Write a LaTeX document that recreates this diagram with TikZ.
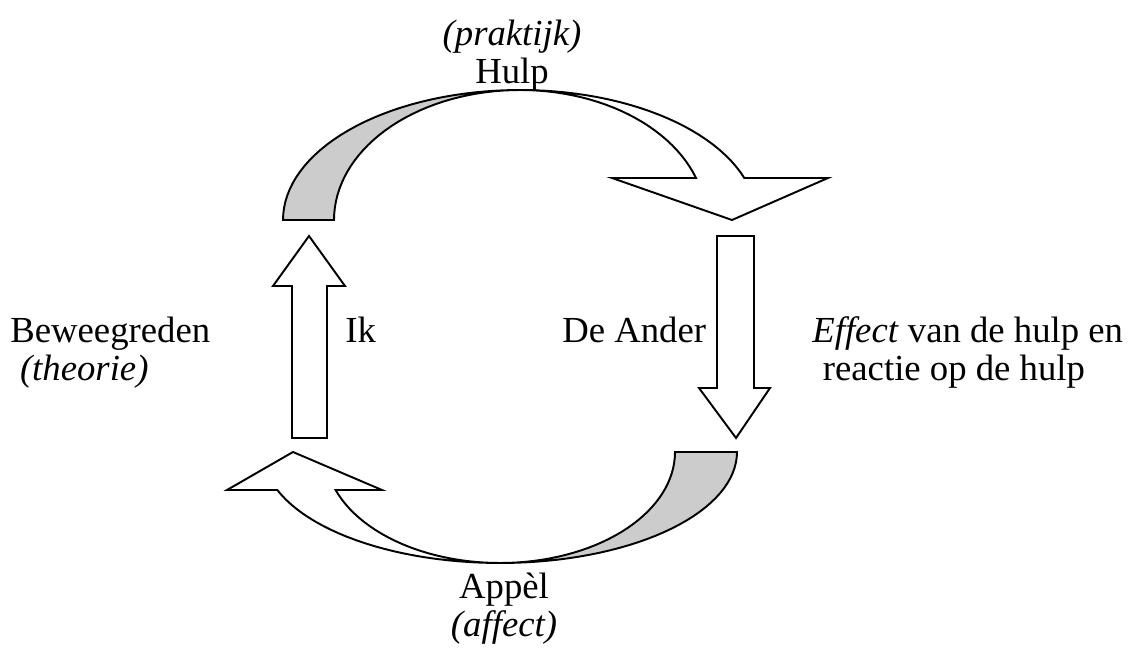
\documentclass[tikz,border=0pt]{standalone}
\usepackage{fontspec}
\setmainfont{Liberation Serif}
\begin{document}
\begin{tikzpicture}[x=0.02cm,y=-0.02cm]

\tikzstyle{blockarrow} = [draw,line width=1.1pt,line join=miter];
\tikzstyle{backside} = [fill=black!20];
\tikzstyle{labelnode} = [inner sep=0pt,font=\fontsize{20.9}{22.8}\selectfont];

\useasboundingbox (0,0) rectangle (1131,648);

% bovenste boog
\fill [backside] plot[domain=180:90,samples=40] ({520+237*cos(\x)},{220-130*sin(\x)}) -- plot[domain=90:180,samples=40] ({520+186*cos(\x)},{220-130*sin(\x)}) -- cycle;
\draw [blockarrow] plot[domain=180:18.85,samples=60] ({520+237*cos(\x)},{220-130*sin(\x)}) -- (828,178) -- (732,220) -- (612,178) -- plot[domain=18.85:180,samples=60] ({520+186*cos(\x)},{220-130*sin(\x)}) -- cycle;

% onderste boog
\fill [backside] plot[domain=0:90,samples=40] ({500+237*cos(\x)},{452+111*sin(\x)}) -- plot[domain=90:0,samples=40] ({500+175*cos(\x)},{452+111*sin(\x)}) -- cycle;
\draw [blockarrow] plot[domain=0:160,samples=60] ({500+237*cos(\x)},{452+111*sin(\x)}) -- (227,490) -- (293,452) -- (382,490) -- plot[domain=160:0,samples=60] ({500+175*cos(\x)},{452+111*sin(\x)}) -- cycle;

% rechte pijlen
\draw [blockarrow] (292,438) -- (292,286) -- (273,286) -- (309,236) -- (345,286) -- (327,286) -- (327,438) -- cycle;
\draw [blockarrow] (717,236) -- (717,388) -- (699,388) -- (736,438) -- (770,388) -- (754,388) -- (754,236) -- cycle;

\node [labelnode,anchor=base] (hulp) at (512,84) {Hulp};
\node [labelnode,anchor=base] (praktijk) at ([yshift=22pt]hulp.base) {\itshape (praktijk)};
\node [labelnode,anchor=base] (appel) at (504,598) {Appèl};
\node [labelnode,anchor=base] (affect) at ([yshift=-22pt]appel.base) {\itshape (affect)};

\node [labelnode,anchor=base west] (beweeg) at (10,342) {Beweegreden};
\node [labelnode,anchor=base west] (theorie) at ([xshift=5.5pt,yshift=-22pt]beweeg.base west) {\itshape (theorie)};
\node [labelnode,anchor=base west] (ik) at (345,342) {Ik};
\node [labelnode,anchor=base west] (ander) at (562,342) {De Ander};
\node [labelnode,anchor=base west] (effect) at (812,342) {\textit{Effect} van de hulp en};
\node [labelnode,anchor=base west] (reactie) at ([xshift=6pt,yshift=-22pt]effect.base west) {reactie op de hulp};

\end{tikzpicture}
\end{document}
